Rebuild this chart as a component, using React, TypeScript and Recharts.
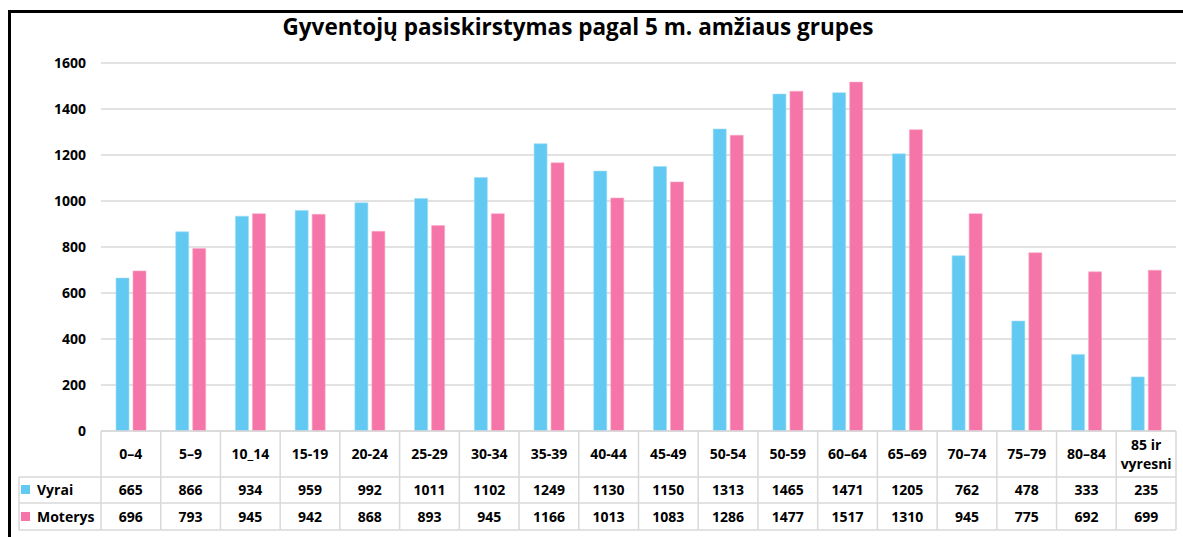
import React from "react";
import { BarChart, Bar, XAxis, YAxis, CartesianGrid, Customized } from "recharts";

const ageGroups = ["0–4", "5–9", "10_14", "15-19", "20-24", "25-29", "30-34", "35-39", "40-44", "45-49", "50-54", "50-59", "60–64", "65–69", "70–74", "75–79", "80–84", "85 ir vyresni"];
const vyrai = [665, 866, 934, 959, 992, 1011, 1102, 1249, 1130, 1150, 1313, 1465, 1471, 1205, 762, 478, 333, 235];
const moterys = [696, 793, 945, 942, 868, 893, 945, 1166, 1013, 1083, 1286, 1477, 1517, 1310, 945, 775, 692, 699];
const yTicks = [0, 200, 400, 600, 800, 1000, 1200, 1400, 1600];
const title = "Gyventojų pasiskirstymas pagal 5 m. amžiaus grupes";

const BLUE = "#61C9F2";
const PINK = "#F575A8";
const GRID = "#D9D9D9";
const FONT = "'Open Sans', sans-serif";

const data = ageGroups.map((g, i) => ({ group: g, Vyrai: vyrai[i], Moterys: moterys[i] }));

const HEADER_H = 46;
const ROW1_H = 72;
const ROW2_H = 99;
const LEGEND_W = 82;

function TableTick(props: any) {
  const { x, y, payload, index, width } = props;
  const half = width / ageGroups.length / 2;
  const left = x - half;
  const right = x + half;
  const label: string = payload.value;
  const lines = label === "85 ir vyresni" ? ["85 ir", "vyresni"] : [label];
  const txt = { fontFamily: FONT, fontWeight: 700, fontSize: 14, fill: "#000", textAnchor: "middle" as const };
  return (
    <g>
      <line x1={left} x2={left} y1={y} y2={y + ROW2_H} stroke={GRID} strokeWidth={1.5} />
      {index === ageGroups.length - 1 && (
        <line x1={right} x2={right} y1={y} y2={y + ROW2_H} stroke={GRID} strokeWidth={1.5} />
      )}
      <line x1={left} x2={right} y1={y + HEADER_H} y2={y + HEADER_H} stroke={GRID} strokeWidth={1.5} />
      <line x1={left} x2={right} y1={y + ROW1_H} y2={y + ROW1_H} stroke={GRID} strokeWidth={1.5} />
      <line x1={left} x2={right} y1={y + ROW2_H} y2={y + ROW2_H} stroke={GRID} strokeWidth={1.5} />
      {lines.length === 1 ? (
        <text {...txt} x={x} y={y + 28}>{lines[0]}</text>
      ) : (
        <>
          <text {...txt} x={x} y={y + 19}>{lines[0]}</text>
          <text {...txt} x={x} y={y + 38}>{lines[1]}</text>
        </>
      )}
      <text {...txt} x={x} y={y + 64}>{vyrai[index]}</text>
      <text {...txt} x={x} y={y + 91}>{moterys[index]}</text>
      {index === 0 && (
        <g>
          <line x1={left - LEGEND_W} x2={left} y1={y + HEADER_H} y2={y + HEADER_H} stroke={GRID} strokeWidth={1.5} />
          <line x1={left - LEGEND_W} x2={left} y1={y + ROW1_H} y2={y + ROW1_H} stroke={GRID} strokeWidth={1.5} />
          <line x1={left - LEGEND_W} x2={left} y1={y + ROW2_H} y2={y + ROW2_H} stroke={GRID} strokeWidth={1.5} />
          <line x1={left - LEGEND_W} x2={left - LEGEND_W} y1={y + HEADER_H} y2={y + ROW2_H} stroke={GRID} strokeWidth={1.5} />
          <rect x={left - LEGEND_W + 2} y={y + 54} width={9} height={9} fill={BLUE} />
          <text {...txt} textAnchor="start" x={left - LEGEND_W + 18} y={y + 64}>Vyrai</text>
          <rect x={left - LEGEND_W + 2} y={y + 81} width={9} height={9} fill={PINK} />
          <text {...txt} textAnchor="start" x={left - LEGEND_W + 18} y={y + 91}>Moterys</text>
        </g>
      )}
    </g>
  );
}

function YTick(props: any) {
  const { x, y, payload } = props;
  return (
    <text x={x} y={y} dy={5} textAnchor="end" fontFamily={FONT} fontWeight={700} fontSize={14} fill="#000">
      {payload.value}
    </text>
  );
}

function Title() {
  return (
    <text x={570} y={25} textAnchor="middle" fontFamily={FONT} fontWeight={700} fontSize={22.5} fill="#000">
      {title}
    </text>
  );
}

export default function App() {
  return (
    <>
      <style>{`html, body { margin: 0; overflow: hidden; background: #fff; }`}</style>
      <div style={{ position: "absolute", left: 8, top: 10, width: 1175, height: 527, borderTop: "3px solid #000", borderLeft: "3px solid #000", boxSizing: "border-box", background: "#fff" }}>
        <div style={{ position: "absolute", left: -3, top: -3 }}>
          <BarChart
            width={1175}
            height={527}
            data={data}
            margin={{ top: 53, right: 7, left: 0, bottom: 6 }}
            barCategoryGap="25%"
            barGap={4}
          >
            <CartesianGrid vertical={false} stroke={GRID} strokeWidth={1.5} />
            <YAxis
              domain={[0, 1600]}
              ticks={yTicks}
              width={93}
              axisLine={false}
              tickLine={false}
              tickSize={0}
              tickMargin={15}
              tick={<YTick />}
            />
            <XAxis
              dataKey="group"
              height={100}
              interval={0}
              tickLine={false}
              tickSize={0}
              tickMargin={0}
              axisLine={{ stroke: GRID, strokeWidth: 1.5 }}
              tick={<TableTick />}
            />
            <Bar dataKey="Vyrai" fill={BLUE} stroke="#9fdcf5" strokeWidth={0.6} barSize={13} isAnimationActive={false} />
            <Bar dataKey="Moterys" fill={PINK} stroke="#f9a9c9" strokeWidth={0.6} barSize={13} isAnimationActive={false} />
            <Customized component={<Title />} />
          </BarChart>
        </div>
      </div>
    </>
  );
}
